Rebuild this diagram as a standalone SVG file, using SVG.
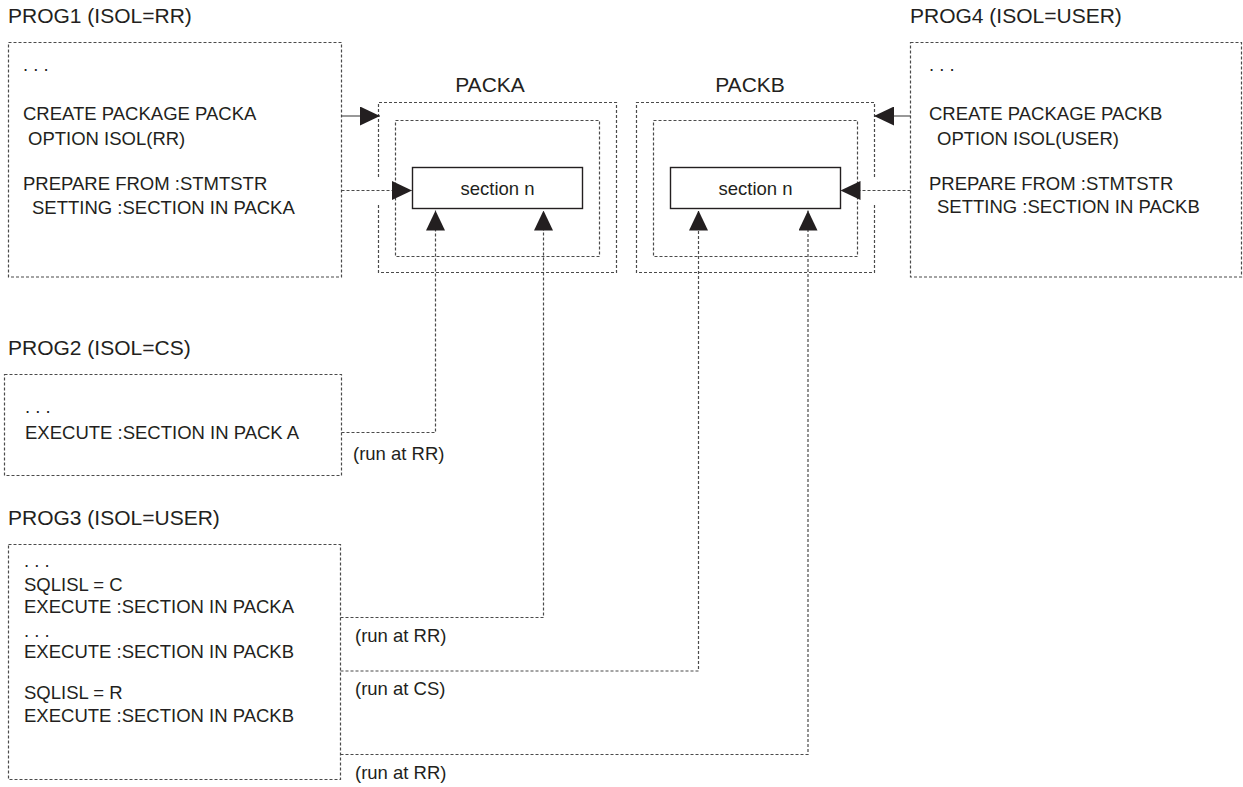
<svg xmlns="http://www.w3.org/2000/svg" width="1243" height="787" viewBox="0 0 1243 787">
<style>
  .t { font-family: "Liberation Sans", Arial, Helvetica, sans-serif; font-size: 18.5px; fill: #231f20; }
  .title { font-family: "Liberation Sans", Arial, Helvetica, sans-serif; font-size: 21px; fill: #231f20; }
  .box { fill: none; stroke: #4a4a4a; stroke-width: 1.2; stroke-dasharray: 3 2; }
  .sec { fill: #ffffff; stroke: #231f20; stroke-width: 1.4; }
  .dl { fill: none; stroke: #4a4a4a; stroke-width: 1.2; stroke-dasharray: 3 2; }
  .sl { fill: none; stroke: #333333; stroke-width: 1.2; }
</style>
<defs>
  <marker id="arrow" markerUnits="userSpaceOnUse" viewBox="0 0 20 19" refX="20" refY="9.5" markerWidth="20" markerHeight="19" orient="auto">
    <path d="M0,0 L20,9.5 L0,19 Z" fill="#231f20"/>
  </marker>
</defs>
<rect x="0" y="0" width="1243" height="787" fill="#ffffff"/>

<g id="prog1">
  <text class="title" x="8" y="23">PROG1 (ISOL=RR)</text>
  <rect class="box" x="8.5" y="42.5" width="333" height="234.5"/>
  <text class="t" x="23" y="71">. . .</text>
  <text class="t" x="23" y="120">CREATE PACKAGE PACKA</text>
  <text class="t" x="28" y="144.5">OPTION ISOL(RR)</text>
  <text class="t" x="23" y="189.5">PREPARE FROM :STMTSTR</text>
  <text class="t" x="32" y="213.5">SETTING :SECTION IN PACKA</text>
</g>

<g id="prog4">
  <text class="title" x="910" y="23">PROG4 (ISOL=USER)</text>
  <rect class="box" x="910.5" y="42.5" width="331" height="234.5"/>
  <text class="t" x="929" y="71">. . .</text>
  <text class="t" x="929" y="120">CREATE PACKAGE PACKB</text>
  <text class="t" x="937" y="144.5">OPTION ISOL(USER)</text>
  <text class="t" x="929" y="190">PREPARE FROM :STMTSTR</text>
  <text class="t" x="937" y="213">SETTING :SECTION IN PACKB</text>
</g>

<g id="packa">
  <text class="title" x="490" y="92" text-anchor="middle">PACKA</text>
  <path class="box" d="M378.5,177 V102.5 H616.5 V272.5 H378.5 V204"/>
  <rect class="box" x="395.5" y="120.5" width="204" height="136"/>
</g>
<g id="sectionA">
  <rect class="sec" x="412.5" y="167.5" width="170" height="41"/>
  <text class="t" x="497.5" y="194.5" text-anchor="middle">section n</text>
</g>

<g id="packb">
  <text class="title" x="750" y="92" text-anchor="middle">PACKB</text>
  <path class="box" d="M874.5,177 V102.5 H636.5 V272.5 H874.5 V204"/>
  <rect class="box" x="653.5" y="120.5" width="204" height="136"/>
</g>
<g id="sectionB">
  <rect class="sec" x="670.5" y="167.5" width="170" height="41"/>
  <text class="t" x="755.5" y="194.5" text-anchor="middle">section n</text>
</g>

<g id="prog2">
  <text class="title" x="8" y="355">PROG2 (ISOL=CS)</text>
  <rect class="box" x="4.5" y="374.5" width="337" height="101"/>
  <text class="t" x="25" y="413">. . .</text>
  <text class="t" x="25" y="439">EXECUTE :SECTION IN PACK A</text>
</g>

<g id="prog3">
  <text class="title" x="8" y="525">PROG3 (ISOL=USER)</text>
  <rect class="box" x="8.5" y="544.5" width="332" height="235"/>
  <text class="t" x="24" y="567">. . .</text>
  <text class="t" x="24" y="591">SQLISL = C</text>
  <text class="t" x="24" y="613">EXECUTE :SECTION IN PACKA</text>
  <text class="t" x="24" y="637">. . .</text>
  <text class="t" x="24" y="658">EXECUTE :SECTION IN PACKB</text>
  <text class="t" x="24" y="699">SQLISL = R</text>
  <text class="t" x="24" y="722">EXECUTE :SECTION IN PACKB</text>
</g>

<g id="connectors">
  <path class="sl" d="M341.5,116 H380" marker-end="url(#arrow)"/>
  <path class="dl" d="M341.5,190.5 H412" marker-end="url(#arrow)"/>
  <path class="sl" d="M910.5,116 H874" marker-end="url(#arrow)"/>
  <path class="dl" d="M910.5,190.5 H840.5" marker-end="url(#arrow)"/>
  <path class="dl" d="M341.5,432.5 H435.5 V210.5" marker-end="url(#arrow)"/>
  <path class="dl" d="M340.5,617.5 H543.5 V210.5" marker-end="url(#arrow)"/>
  <path class="dl" d="M340.5,671 H698.5 V210.5" marker-end="url(#arrow)"/>
  <path class="dl" d="M340.5,754.5 H808 V210.5" marker-end="url(#arrow)"/>
  <text class="t" x="353" y="460">(run at RR)</text>
  <text class="t" x="355" y="641.5">(run at RR)</text>
  <text class="t" x="355" y="695">(run at CS)</text>
  <text class="t" x="355" y="779">(run at RR)</text>
</g>
</svg>
